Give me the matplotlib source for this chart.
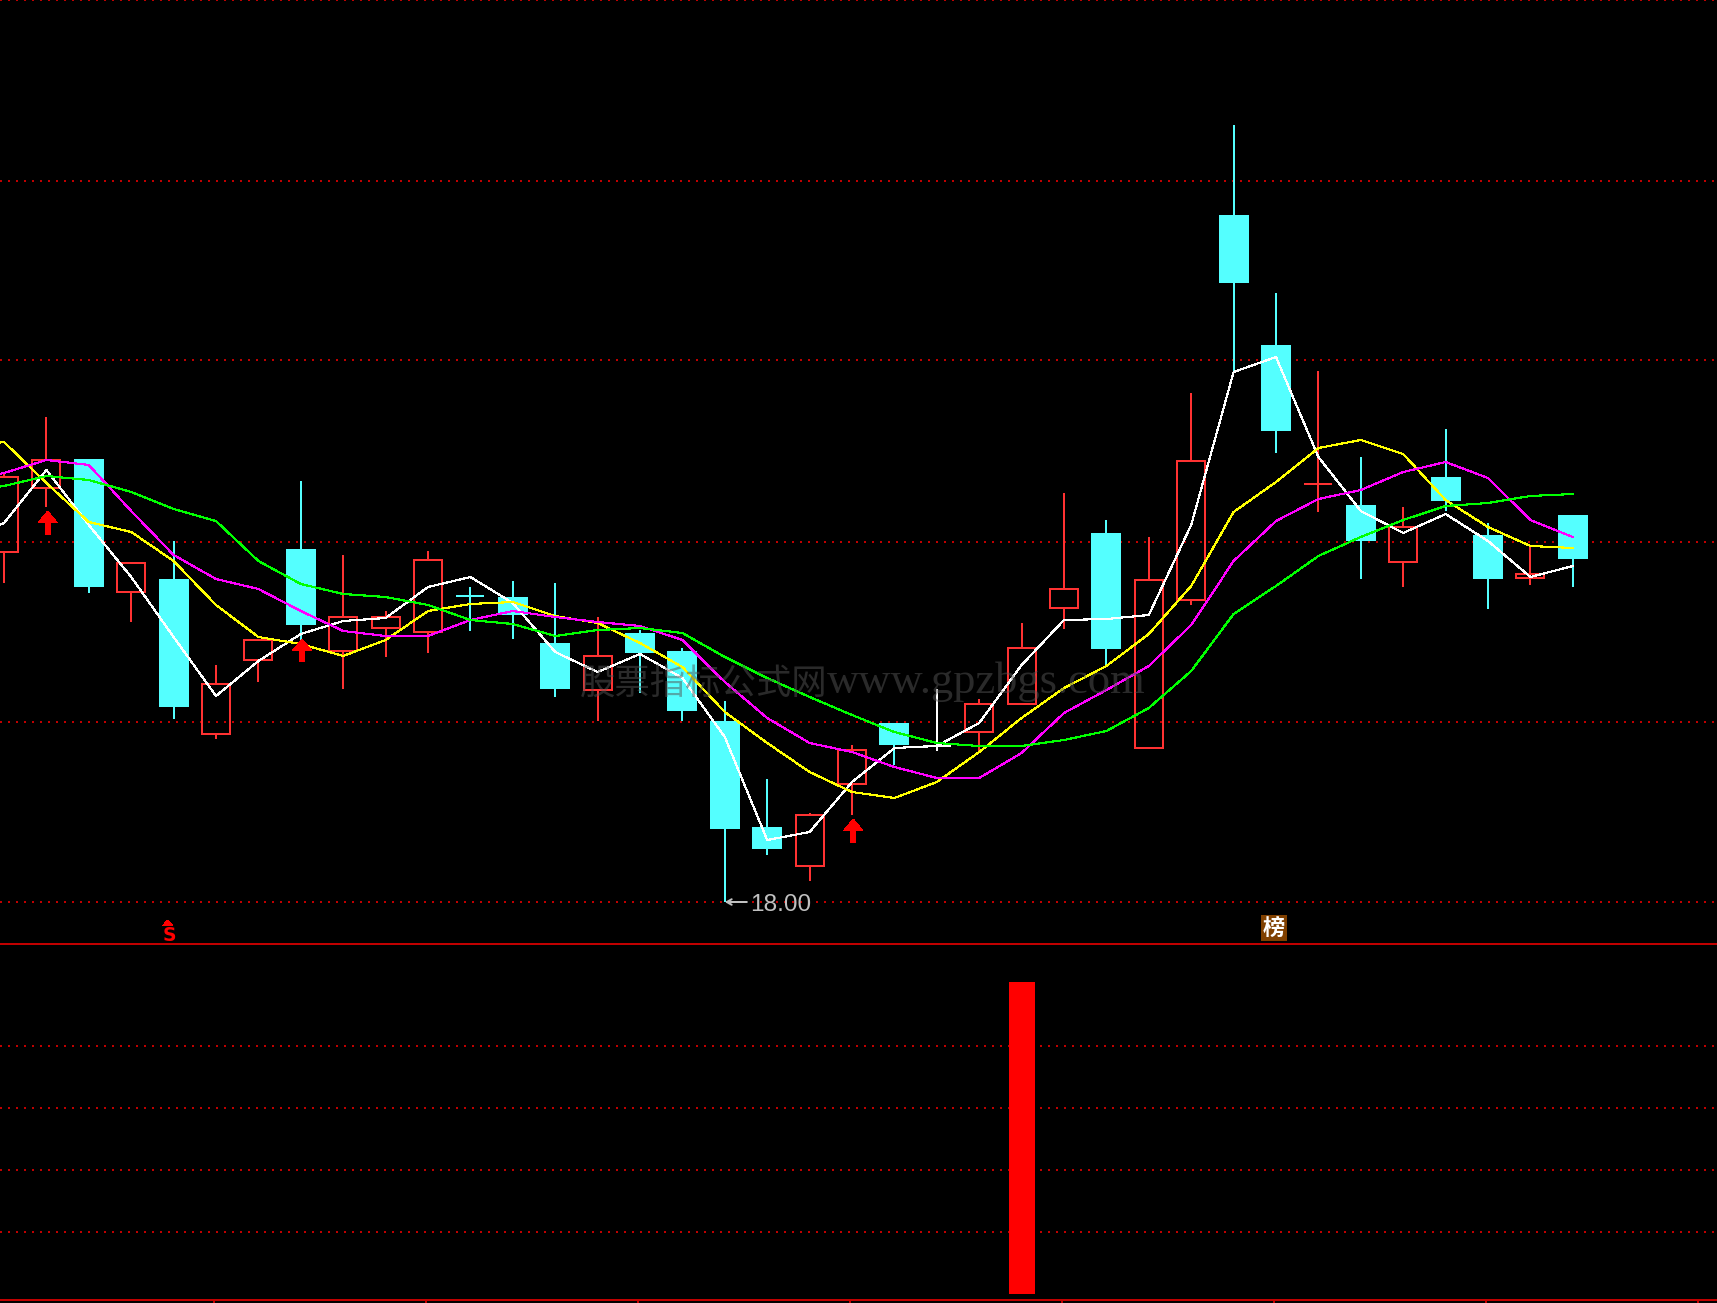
import numpy as np
import matplotlib
matplotlib.use("Agg")
import matplotlib.pyplot as plt
from matplotlib.patches import Polygon

plt.rcParams['font.family'] = ['Liberation Sans', 'Noto Sans CJK SC', 'DejaVu Sans']
plt.rcParams['lines.scale_dashes'] = False

opens = [21.50,22.14,22.43,21.10,21.23,19.68,20.42,21.53,20.51,20.74,
         20.70,21.06,21.05,20.59,20.12,20.69,20.51,19.81,18.75,18.36,
         19.18,19.79,19.56,19.70,19.98,20.94,21.69,19.54,21.02,24.87,
         23.57,22.18,21.97,21.40,22.25,21.67,21.24,21.87]
closes = [22.25,22.42,21.15,21.39,19.95,20.18,20.62,20.77,20.85,20.85,
          21.42,21.06,20.87,20.13,20.46,20.49,19.91,18.73,18.53,18.87,
          19.52,19.57,19.56,19.98,20.54,21.13,20.53,21.22,22.41,24.19,
          22.71,22.18,21.61,21.75,22.01,21.23,21.28,21.43]
highs = [22.28,22.85,22.43,21.39,21.61,20.37,20.62,22.21,21.47,20.91,
         21.51,21.15,21.21,21.19,20.85,20.72,20.54,20.01,19.23,18.89,
         19.57,19.79,20.13,20.03,20.79,22.09,21.82,21.65,23.09,25.77,
         24.09,23.31,22.45,21.95,22.73,21.79,21.56,21.87]
lows = [21.19,21.95,21.09,20.80,19.83,19.63,20.20,20.62,20.13,20.45,
        20.49,20.71,20.63,20.05,19.81,20.09,19.81,18.00,18.47,18.21,
        18.87,19.37,19.51,19.50,19.98,20.73,20.37,19.54,20.97,23.30,
        22.49,21.90,21.23,21.15,21.91,20.93,21.17,21.15]
doji_idx = [11, 22, 31]
doji_col = ['#54FFFF', '#FFFFFF', '#FF3232']

ma_white = [21.60,21.79,22.32,21.77,21.25,20.65,20.06,20.41,20.68,20.81,20.84,21.15,21.25,20.99,20.50,20.30,20.48,20.24,19.65,18.62,18.70,19.20,19.54,19.56,19.79,20.37,20.82,20.83,20.87,21.77,23.30,23.45,22.45,21.91,21.69,21.88,21.61,21.25,21.36]
ma_yellow = [22.55,22.60,22.19,21.80,21.70,21.41,20.97,20.65,20.58,20.46,20.62,20.91,20.98,21.00,20.86,20.79,20.59,20.35,19.90,19.59,19.30,19.10,19.04,19.20,19.50,19.84,20.14,20.36,20.68,21.16,21.90,22.20,22.54,22.62,22.48,22.02,21.75,21.56,21.54]
ma_magenta = [22.20,22.29,22.42,22.37,21.91,21.47,21.23,21.13,20.91,20.71,20.66,20.66,20.82,20.91,20.85,20.80,20.76,20.62,20.20,19.84,19.59,19.50,19.35,19.24,19.24,19.49,19.89,20.12,20.36,20.77,21.41,21.81,22.03,22.12,22.30,22.40,22.24,21.82,21.65]
ma_green = [22.10,22.16,22.26,22.22,22.10,21.93,21.81,21.41,21.18,21.08,21.05,20.97,20.82,20.78,20.66,20.72,20.74,20.69,20.45,20.24,20.05,19.87,19.70,19.59,19.56,19.56,19.62,19.71,19.94,20.31,20.88,21.16,21.46,21.65,21.82,21.96,21.99,22.06,22.08]

price_grid = [18.00, 19.80, 21.60, 23.42, 25.21, 27.02]
arrow_idx = [1, 7, 20]
arrow_tip = [21.91, 20.63, 18.83]
arrow_tail = [21.67, 20.40, 18.59]
low_label = '18.00'
watermark_cjk = '股票指标公式网'
watermark_lat = 'www.gpzbgs.com'

vol_idx = [24]
vol_val = [5.03]
vol_grid = [1, 2, 3, 4]
tick_pos = [4.95 + 5 * k for k in range(8)]

W, H = 1717, 1303
BG = '#000000'
RED = '#FF3232'
CYAN = '#54FFFF'
GRID = '#C00000'
PX = 1 / 100 * 72  # one pixel in points at dpi 100

fig = plt.figure(figsize=(W / 100, H / 100), dpi=100, facecolor=BG)
ax = fig.add_axes([0, (H - 944) / H, 1, 944 / H], facecolor=BG)
ax2 = fig.add_axes([0, 3 / H, 1, (1300 - 944) / H], facecolor=BG)
xlim = (-4 / 42.4, (W - 4) / 42.4)
ax.set_xlim(*xlim)
ax.set_ylim(17.58, 27.02)
ax2.set_xlim(*xlim)
ax2.set_ylim(-0.097, 5.645)
ax.axis('off')

dots = (0, (2 * PX, 6 * PX))
for ylev in price_grid:
    ax.hlines(ylev, *xlim, color=GRID, lw=2 * PX, linestyles=dots, antialiased=False, zorder=1)
for ylev in vol_grid:
    ax2.hlines(ylev, *xlim, color=GRID, lw=2 * PX, linestyles=dots, antialiased=False, zorder=1)

# candles
x = np.arange(len(opens))
o, c, h, l = map(np.array, (opens, closes, highs, lows))
top = np.maximum(o, c)
bot = np.minimum(o, c)
body_w = 30 / 42.4
up = c > o
down = c < o
ax.bar(x[down], (top - bot)[down], bottom=bot[down], width=body_w, color=CYAN,
       linewidth=0, antialiased=False, zorder=2)
ax.bar(x[up], (top - bot)[up], bottom=bot[up], width=body_w - 2 / 42.4, fill=False,
       edgecolor=RED, linewidth=2 * PX, antialiased=False, zorder=2)
for mask, col in ((up, RED), (down, CYAN)):
    ax.vlines(x[mask], top[mask], h[mask], color=col, lw=2 * PX, antialiased=False, zorder=2)
    ax.vlines(x[mask], l[mask], bot[mask], color=col, lw=2 * PX, antialiased=False, zorder=2)
for i, col in zip(doji_idx, doji_col):
    ax.vlines(i, l[i], h[i], color=col, lw=2 * PX, antialiased=False, zorder=2)
    ax.hlines(o[i], i - 14 / 42.4, i + 14 / 42.4, color=col, lw=2 * PX, antialiased=False, zorder=2)

# moving averages
xm = np.arange(-1, len(opens))
for vals, col in ((ma_white, '#FFFFFF'), (ma_yellow, '#FFFF00'),
                  (ma_magenta, '#FF00FF'), (ma_green, '#00FF00')):
    ax.plot(xm, vals, color=col, lw=1.1 * PX, antialiased=False, zorder=3,
            solid_joinstyle='miter')

# up arrows
for i, t, b in zip(arrow_idx, arrow_tip, arrow_tail):
    xc = i + 0.03
    hw, sw, hh = 0.225, 0.055, 0.115
    pts = [(xc, t), (xc + hw, t - hh), (xc + sw, t - hh), (xc + sw, b),
           (xc - sw, b), (xc - sw, t - hh), (xc - hw, t - hh)]
    ax.add_patch(Polygon(pts, closed=True, facecolor='#FF0000', edgecolor='none',
                         antialiased=False, zorder=4))

# low marker
low_i = int(np.argmin(l))
ax.annotate('', xy=(low_i, l[low_i]), xytext=(low_i + 0.52, l[low_i]),
            arrowprops=dict(arrowstyle='->,head_length=0.35,head_width=0.2',
                            color='#C0C0C0', lw=2 * PX, shrinkA=0, shrinkB=0), zorder=5)
ax.text(low_i + 0.6, l[low_i] - 0.03, low_label, color='#C0C0C0', fontsize=17.6,
        family=['Liberation Sans'], va='center', ha='left', zorder=5)

# S marker
ax.add_patch(Polygon([(3.86, 17.82), (3.74, 17.765), (3.98, 17.765)], closed=True,
                     facecolor='#FF0000', edgecolor='none', antialiased=False, zorder=5))
ax.text(3.89, 17.61, 'S', color='#FF0000', fontsize=13.5, fontweight='bold',
        family=['DejaVu Sans'], ha='center', va='baseline', zorder=5)

# badge
ax.bar([29.95], [0.26], bottom=17.61, width=26 / 42.4, color='#804000', linewidth=0,
       antialiased=False, zorder=5)
ax.text(29.95, 17.735, '榜', color='#FFFFFF', fontsize=16, fontweight='bold',
        family=['Noto Sans CJK SC'], ha='center', va='center', zorder=6)

# watermark, on top of everything
ax.text((827 - 4) / 42.4, 20.17, watermark_cjk, color='#545454', alpha=0.5, fontsize=25.5,
        family=['Noto Sans CJK SC'], ha='right', va='center', zorder=10)
ax.text((827 - 4) / 42.4, 20.20, watermark_lat, color='#545454', alpha=0.5, fontsize=32,
        family=['Liberation Serif'], ha='left', va='center', zorder=10)

# lower panel
ax2.bar(vol_idx, vol_val, width=26 / 42.4, color='#FF0000', linewidth=0,
        antialiased=False, zorder=3)
for s in ('left', 'right'):
    ax2.spines[s].set_visible(False)
for s in ('top', 'bottom'):
    ax2.spines[s].set_color(GRID)
    ax2.spines[s].set_linewidth(2 * PX)
ax2.set_yticks([])
ax2.set_xticks(tick_pos)
ax2.set_xticklabels([])
ax2.tick_params(axis='x', color=GRID, length=3 * PX, width=2 * PX, direction='out')

fig.savefig('out.png', dpi=100, facecolor=BG)
